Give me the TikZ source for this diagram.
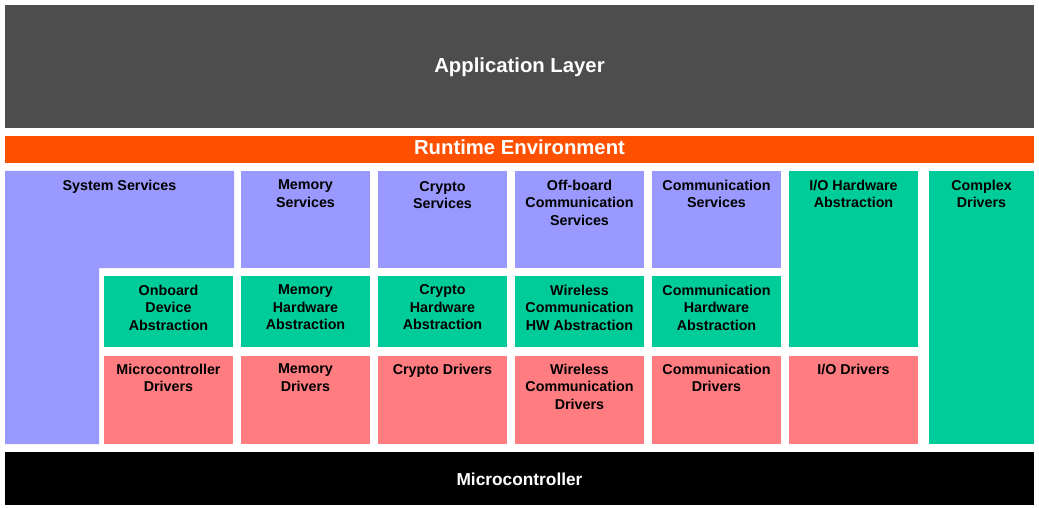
\documentclass[tikz,border=0pt]{standalone}
\usepackage{fontspec}
\setmainfont{Liberation Sans}
\definecolor{appgray}{HTML}{4D4D4D}
\definecolor{rteorange}{HTML}{FF5000}
\definecolor{svcblue}{HTML}{9999FF}
\definecolor{hwgreen}{HTML}{00CC99}
\definecolor{drvred}{HTML}{FF7C80}
\tikzset{
  lbl/.style={anchor=north, inner sep=0pt, align=center, font=\bfseries\fontsize{14.3}{17.5}\selectfont},
  biglbl/.style={anchor=base, inner sep=0pt, text=white, font=\bfseries\fontsize{20.3}{24}\selectfont}
}
\begin{document}
\begin{tikzpicture}[x=1pt,y=-1pt]
\useasboundingbox (0,0) rectangle (1039,508);
% layers
\fill[appgray] (5,5) rectangle (1034,128);
\node[biglbl] (app) at (519.5,72.7) {Application Layer};
\fill[rteorange] (5,136) rectangle (1034,163);
\node[biglbl] (rte) at (519.5,155) {Runtime Environment};
% services
\fill[svcblue] (5,171) -- (234,171) -- (234,268) -- (99,268) -- (99,444) -- (5,444) -- cycle;
\node[lbl] (syssvc) at (119.5,179.5) {System Services};
\fill[svcblue] (241,171) rectangle (370,268);
\node[lbl] (memsvc) at (305.5,179.5) {Memory\\Services};
\fill[svcblue] (378,171) rectangle (507,268);
\node[lbl] (cryptosvc) at (442.5,181) {Crypto\\Services};
\fill[svcblue] (515,171) rectangle (644,268);
\node[lbl] (offsvc) at (579.5,179.5) {Off-board\\Communication\\Services};
\fill[svcblue] (652,171) rectangle (781,268);
\node[lbl] (comsvc) at (716.5,179.5) {Communication\\Services};
\fill[hwgreen] (789,171) rectangle (918,347);
\node[lbl] (ioabs) at (853.5,179.5) {I/O Hardware\\Abstraction};
\fill[hwgreen] (929,171) rectangle (1034,444);
\node[lbl] (cdd) at (981.5,179.5) {Complex\\Drivers};
% abstraction
\fill[hwgreen] (104,276) rectangle (233,347);
\node[lbl] (onbabs) at (168.5,284.5) {Onboard\\Device\\Abstraction};
\fill[hwgreen] (241,276) rectangle (370,347);
\node[lbl] (memabs) at (305.5,284.5) {Memory\\Hardware\\Abstraction};
\fill[hwgreen] (378,276) rectangle (507,347);
\node[lbl] (cryptoabs) at (442.5,284.5) {Crypto\\Hardware\\Abstraction};
\fill[hwgreen] (515,276) rectangle (644,347);
\node[lbl] (wlabs) at (579.5,284.5) {Wireless\\Communication\\HW Abstraction};
\fill[hwgreen] (652,276) rectangle (781,347);
\node[lbl] (comabs) at (716.5,284.5) {Communication\\Hardware\\Abstraction};
% drivers
\fill[drvred] (104,356) rectangle (233,444);
\node[lbl] (mcudrv) at (168.5,363.5) {Microcontroller\\Drivers};
\fill[drvred] (241,356) rectangle (370,444);
\node[lbl] (memdrv) at (305.5,363.5) {Memory\\Drivers};
\fill[drvred] (378,356) rectangle (507,444);
\node[lbl] (cryptodrv) at (442.5,363.5) {Crypto Drivers};
\fill[drvred] (515,356) rectangle (644,444);
\node[lbl] (wldrv) at (579.5,363.5) {Wireless\\Communication\\Drivers};
\fill[drvred] (652,356) rectangle (781,444);
\node[lbl] (comdrv) at (716.5,363.5) {Communication\\Drivers};
\fill[drvred] (789,356) rectangle (918,444);
\node[lbl] (iodrv) at (853.5,363.5) {I/O Drivers};
% hardware
\fill[black] (5,452) rectangle (1034,505);
\node[biglbl, font=\bfseries\fontsize{17.3}{20}\selectfont] (mcu) at (519.5,485.7) {Microcontroller};
\end{tikzpicture}
\end{document}
